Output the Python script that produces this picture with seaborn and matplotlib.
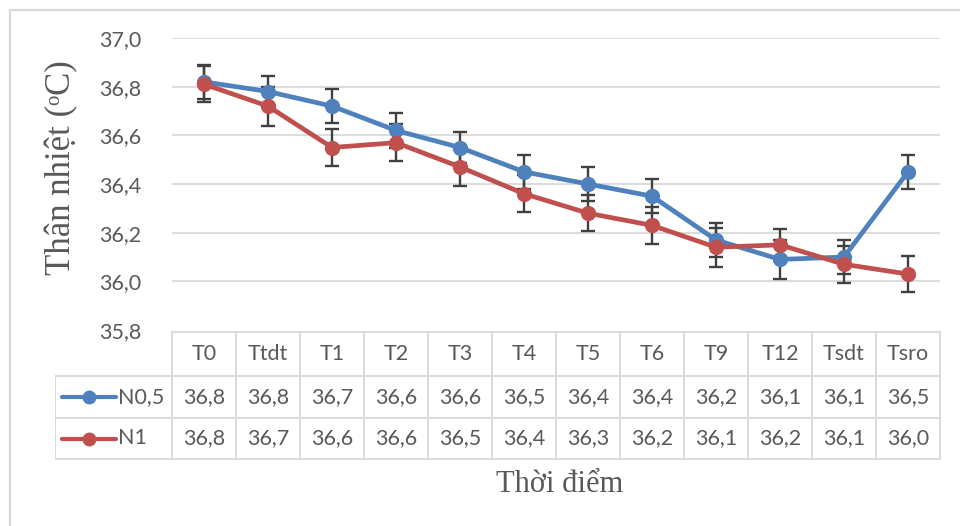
import numpy as np
import pandas as pd
import matplotlib
matplotlib.use("Agg")
import matplotlib.pyplot as plt
import seaborn as sns

categories = ["T0", "Ttdt", "T1", "T2", "T3", "T4", "T5", "T6", "T9", "T12", "Tsdt", "Tsro"]
series_names = ["N0,5", "N1"]
n05_values = [36.82, 36.78, 36.72, 36.62, 36.55, 36.45, 36.40, 36.35, 36.17, 36.09, 36.10, 36.45]
n1_values = [36.81, 36.72, 36.55, 36.57, 36.47, 36.36, 36.28, 36.23, 36.14, 36.15, 36.07, 36.03]
n05_err = [0.07, 0.065, 0.07, 0.07, 0.065, 0.07, 0.07, 0.07, 0.07, 0.08, 0.07, 0.07]
n1_err = [0.075, 0.08, 0.075, 0.075, 0.08, 0.075, 0.075, 0.075, 0.08, 0.065, 0.075, 0.075]
n05_table = ["36,8", "36,8", "36,7", "36,6", "36,6", "36,5", "36,4", "36,4", "36,2", "36,1", "36,1", "36,5"]
n1_table = ["36,8", "36,7", "36,6", "36,6", "36,5", "36,4", "36,3", "36,2", "36,1", "36,2", "36,1", "36,0"]
y_ticks = [35.8, 36.0, 36.2, 36.4, 36.6, 36.8, 37.0]
y_label = "Thân nhiệt (ᵒC)"
x_label = "Thời điểm"

colors = {"N0,5": "#4F81BD", "N1": "#C0504D"}
text_col = "#595959"
grid_col = "#D9D9D9"

sns.set_style("white")
plt.rcParams["font.family"] = ["Lato", "DejaVu Sans"]

W, H = 960, 526
fig = plt.figure(figsize=(W / 100, H / 100), dpi=100)

def px_rect(l, t, r, b):
    return [l / W, 1 - b / H, (r - l) / W, (b - t) / H]

# outer chart border (top and left edges visible)
fig.add_artist(plt.Line2D([9.5 / W, 1], [1 - 10 / H, 1 - 10 / H], transform=fig.transFigure,
                          color="#D9D9D9", linewidth=1.6))
fig.add_artist(plt.Line2D([9.5 / W, 9.5 / W], [0, 1 - 10 / H], transform=fig.transFigure,
                          color="#D9D9D9", linewidth=1.6))

ax = fig.add_axes(px_rect(172, 38, 940, 330))
x = np.arange(len(categories))
df = pd.DataFrame({
    "x": np.concatenate([x, x]),
    "value": n05_values + n1_values,
    "series": [series_names[0]] * len(x) + [series_names[1]] * len(x),
})
for name, vals, errs in [("N0,5", n05_values, n05_err), ("N1", n1_values, n1_err)]:
    ax.errorbar(x, vals, yerr=errs, fmt="none", ecolor="#404040", elinewidth=1.7,
                capsize=5, capthick=1.7, zorder=3)
sns.lineplot(data=df, x="x", y="value", hue="series", palette=colors, marker="o",
             markersize=11, markeredgewidth=0, linewidth=3.4, sort=False, legend=False,
             ax=ax, zorder=4)

ax.set_xlim(-0.5, len(categories) - 0.5)
ax.set_ylim(35.8, 37.0)
ax.set_yticks(y_ticks)
ax.set_yticklabels([f"{v:.1f}".replace(".", ",") for v in y_ticks], color=text_col, fontsize=15.5)
ax.set_xticks([])
ax.tick_params(axis="y", length=0, pad=22)
for yv in y_ticks[1:]:
    ax.axhline(yv, color=grid_col, linewidth=1.3, zorder=0)
for s in ax.spines.values():
    s.set_visible(False)
ax.set_xlabel("")
ax.set_ylabel("")

# data table
tab = fig.add_axes(px_rect(55, 330, 941, 460))
tab.set_xlim(55, 941)
tab.set_ylim(460, 330)
tab.axis("off")
col0 = 172
cw = (940 - col0) / len(categories)
rows = [332, 376, 418, 459]
lc = "#D9D9D9"
lw = 1.3
tab.plot([col0, 940], [rows[0], rows[0]], color=lc, lw=lw)
for r in rows[1:]:
    tab.plot([55, 940], [r, r], color=lc, lw=lw)
tab.plot([55, 55], [rows[1], rows[3]], color=lc, lw=lw)
for i in range(len(categories) + 1):
    tab.plot([col0 + i * cw] * 2, [rows[0], rows[3]], color=lc, lw=lw)
for i, c in enumerate(categories):
    cx = col0 + (i + 0.5) * cw
    tab.text(cx, (rows[0] + rows[1]) / 2, c, ha="center", va="center", fontsize=15.5, color=text_col)
    tab.text(cx, (rows[1] + rows[2]) / 2, n05_table[i], ha="center", va="center", fontsize=15.5, color=text_col)
    tab.text(cx, (rows[2] + rows[3]) / 2, n1_table[i], ha="center", va="center", fontsize=15.5, color=text_col)
for k, name in enumerate(series_names):
    cy = (rows[k + 1] + rows[k + 2]) / 2
    tab.plot([62, 116], [cy, cy], color=colors[name], lw=3)
    tab.plot([89], [cy], marker="o", color=colors[name], markersize=9)
    tab.text(118, cy, name, ha="left", va="center", fontsize=15.5, color=text_col)

fig.text(62 / W, 1 - 168 / H, y_label, rotation=90, ha="center", va="center",
         fontsize=25, color=text_col, family=["Liberation Serif", "DejaVu Serif"])
fig.text(560 / W, 1 - 484 / H, x_label, ha="center", va="center",
         fontsize=22, color=text_col, family=["Liberation Serif", "DejaVu Serif"])

fig.savefig("out.png", dpi=100)
